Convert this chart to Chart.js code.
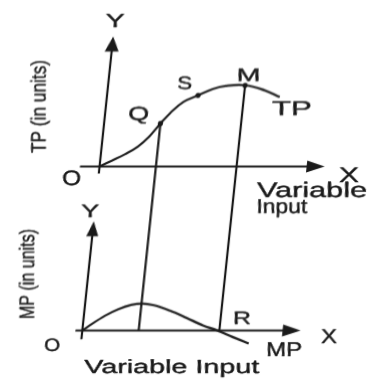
<!DOCTYPE html>
<html>
<head>
<meta charset="utf-8">
<script src="https://cdn.jsdelivr.net/npm/chart.js@4"></script>
<style>
html, body { margin: 0; padding: 0; background: #ffffff; overflow: hidden; }
#wrap { width: 376px; height: 382px; transform: skewX(-6deg); transform-origin: 50% 50%; }
canvas { display: block; }
</style>
</head>
<body>
<div id="wrap"><canvas id="c" width="376" height="382"></canvas></div>
<script>
// ---- data ----
const tpInput  = [0, 0.59, 1.22, 1.85, 2.38, 2.88, 3.33, 3.94, 4.65, 5.37, 6.02, 7.0, 8.05, 8.83];
const tpOutput = [0, 0.72, 1.5, 2.45, 3.7, 5.3, 6.6, 7.95, 8.76, 9.55, 9.92, 10, 9.36, 8.55];
const mpInput  = [0, 0.46, 1.09, 1.72, 2.36, 2.94, 3.53, 4.39, 5.27, 6.14, 6.9, 7.7, 8.57];
const mpOutput = [0, 0.76, 1.69, 2.42, 2.91, 3.06, 2.87, 2.24, 1.42, 0.58, 0, -0.72, -1.47];
const markNames = ['Q', 'S', 'M'];
const markIndex = [5, 8, 11];          // positions of Q, S, M on the TP curve
const dropNames = ['Q', 'M'];          // vertical guides from TP down to MP axis
const rPointIndex = 10;                // R: MP = 0
const topAxisX = [-1.0, 11.5];
const topAxisY = [-0.85, 16];
const botAxisX = [-0.35, 11.15];
const botAxisY = [-1.0, 12.4];

const INK = '#1a1a1a';
const FONT = '"Liberation Sans", Arial, sans-serif';
const SKEW = Math.tan(6 * Math.PI / 180);

const tpData = tpInput.map((x, i) => ({ x, y: tpOutput[i] }));
const mpData = mpInput.map((x, i) => ({ x, y: mpOutput[i] }));
const markData = markIndex.map(i => ({ x: tpInput[i], y: tpOutput[i] }));

function text(ctx, str, cx, by, size, width, rotated) {
  ctx.save();
  ctx.translate(cx, by);
  ctx.transform(1, 0, SKEW, 1, 0, 0);   // keep letters upright against the page skew
  if (rotated) ctx.rotate(-Math.PI / 2);
  ctx.font = size + 'px ' + FONT;
  const w = ctx.measureText(str).width;
  ctx.scale(width / w, 1);
  ctx.fillStyle = INK;
  ctx.strokeStyle = INK;
  ctx.lineWidth = 0.4;
  ctx.lineJoin = 'round';
  ctx.textAlign = 'center';
  ctx.textBaseline = rotated ? 'middle' : 'alphabetic';
  ctx.fillText(str, 0, 0);
  ctx.strokeText(str, 0, 0);
  ctx.restore();
}

function arrowUp(ctx, x, y, len, half) {
  ctx.beginPath();
  ctx.moveTo(x, y);
  ctx.lineTo(x - half, y + len);
  ctx.lineTo(x + half, y + len);
  ctx.closePath();
  ctx.fill();
}
function arrowRight(ctx, x, y, len, half) {
  ctx.beginPath();
  ctx.moveTo(x, y);
  ctx.lineTo(x - len, y - half);
  ctx.lineTo(x - len, y + half);
  ctx.closePath();
  ctx.fill();
}

const diagram = {
  id: 'diagram',
  beforeDatasetsDraw(chart) {
    const ctx = chart.ctx;
    const sx = chart.scales.x, yt = chart.scales.yTop, yb = chart.scales.yBot;
    ctx.save();
    ctx.strokeStyle = INK; ctx.fillStyle = INK; ctx.lineWidth = 2.2; ctx.lineCap = 'butt';
    const x0 = sx.getPixelForValue(0);
    // top panel axes
    ctx.beginPath();
    ctx.moveTo(sx.getPixelForValue(topAxisX[0]), yt.getPixelForValue(0));
    ctx.lineTo(sx.getPixelForValue(topAxisX[1]) - 10, yt.getPixelForValue(0));
    ctx.moveTo(x0, yt.getPixelForValue(topAxisY[0]));
    ctx.lineTo(x0, yt.getPixelForValue(topAxisY[1]) + 8);
    ctx.stroke();
    arrowRight(ctx, sx.getPixelForValue(topAxisX[1]), yt.getPixelForValue(0), 18, 6);
    arrowUp(ctx, x0, yt.getPixelForValue(topAxisY[1]), 15, 7);
    // bottom panel axes
    ctx.beginPath();
    ctx.moveTo(sx.getPixelForValue(botAxisX[0]), yb.getPixelForValue(0));
    ctx.lineTo(sx.getPixelForValue(botAxisX[1]) - 10, yb.getPixelForValue(0));
    ctx.moveTo(x0, yb.getPixelForValue(botAxisY[0]));
    ctx.lineTo(x0, yb.getPixelForValue(botAxisY[1]) + 8);
    ctx.stroke();
    arrowRight(ctx, sx.getPixelForValue(botAxisX[1]), yb.getPixelForValue(0), 18, 6);
    arrowUp(ctx, x0, yb.getPixelForValue(botAxisY[1]), 15, 6);
    // drop lines
    ctx.beginPath();
    dropNames.forEach(n => {
      const i = markIndex[markNames.indexOf(n)];
      const px = sx.getPixelForValue(tpInput[i]);
      ctx.moveTo(px, yt.getPixelForValue(tpOutput[i]));
      ctx.lineTo(px, yb.getPixelForValue(0));
    });
    ctx.stroke();
    ctx.restore();
  },
  afterDatasetsDraw(chart) {
    const ctx = chart.ctx;
    const sx = chart.scales.x, yt = chart.scales.yTop, yb = chart.scales.yBot;
    const P = (i) => [sx.getPixelForValue(tpInput[i]), yt.getPixelForValue(tpOutput[i])];
    let p;
    p = P(markIndex[0]); text(ctx, 'Q', p[0] - 22, p[1] - 3, 19, 21);
    p = P(markIndex[1]); text(ctx, 'S', p[0] - 14, p[1] - 6, 18, 15);
    p = P(markIndex[2]); text(ctx, 'M', p[0] + 3, p[1] - 4.5, 18, 24);
    const r = [sx.getPixelForValue(mpInput[rPointIndex]), yb.getPixelForValue(0)];
    text(ctx, 'R', r[0] + 24, r[1] - 6.5, 18, 18);

    text(ctx, 'Y', 98, 26.7, 19, 19);
    text(ctx, 'TP (in units)', 31, 106.5, 21, 93, true);
    text(ctx, 'TP', 284, 115, 20, 40);
    text(ctx, 'O', 71, 185, 21, 19);
    text(ctx, 'X', 348, 182, 21, 20);
    text(ctx, 'Variable', 312.7, 197, 21, 110);
    text(ctx, 'Input', 284.2, 213, 20, 51);

    text(ctx, 'Y', 93, 217, 18, 18);
    text(ctx, 'MP (in units)', 37, 274, 21, 90, true);
    text(ctx, 'O', 69, 351, 18, 16);
    text(ctx, 'X', 345, 343, 20, 16);
    text(ctx, 'MP', 301.5, 356, 20, 36);
    text(ctx, 'Variable Input', 190.9, 373, 19, 175);
  }
};

new Chart(document.getElementById('c'), {
  type: 'scatter',
  data: {
    datasets: [
      { label: 'TP', data: tpData, yAxisID: 'yTop', showLine: true, borderColor: INK, borderWidth: 2.2,
        pointRadius: 0, tension: 0.4 },
      { label: 'MP', data: mpData, yAxisID: 'yBot', showLine: true, borderColor: INK, borderWidth: 2.2,
        pointRadius: 0, cubicInterpolationMode: 'monotone' },
      { label: 'points', data: markData, yAxisID: 'yTop', showLine: false, pointRadius: 2.6,
        pointBackgroundColor: INK, pointBorderColor: INK, pointBorderWidth: 0 }
    ]
  },
  options: {
    responsive: false,
    animation: false,
    devicePixelRatio: 1,
    layout: { padding: 0 },
    plugins: { legend: { display: false }, tooltip: { enabled: false }, title: { display: false } },
    scales: {
      x: { type: 'linear', display: false, min: -4.75, max: 14.05 },
      yTop: { type: 'linear', display: false, min: -26.024, max: 20 },
      yBot: { type: 'linear', display: false, min: -5.389, max: 37.056 }
    }
  },
  plugins: [diagram]
});
</script>
</body>
</html>
